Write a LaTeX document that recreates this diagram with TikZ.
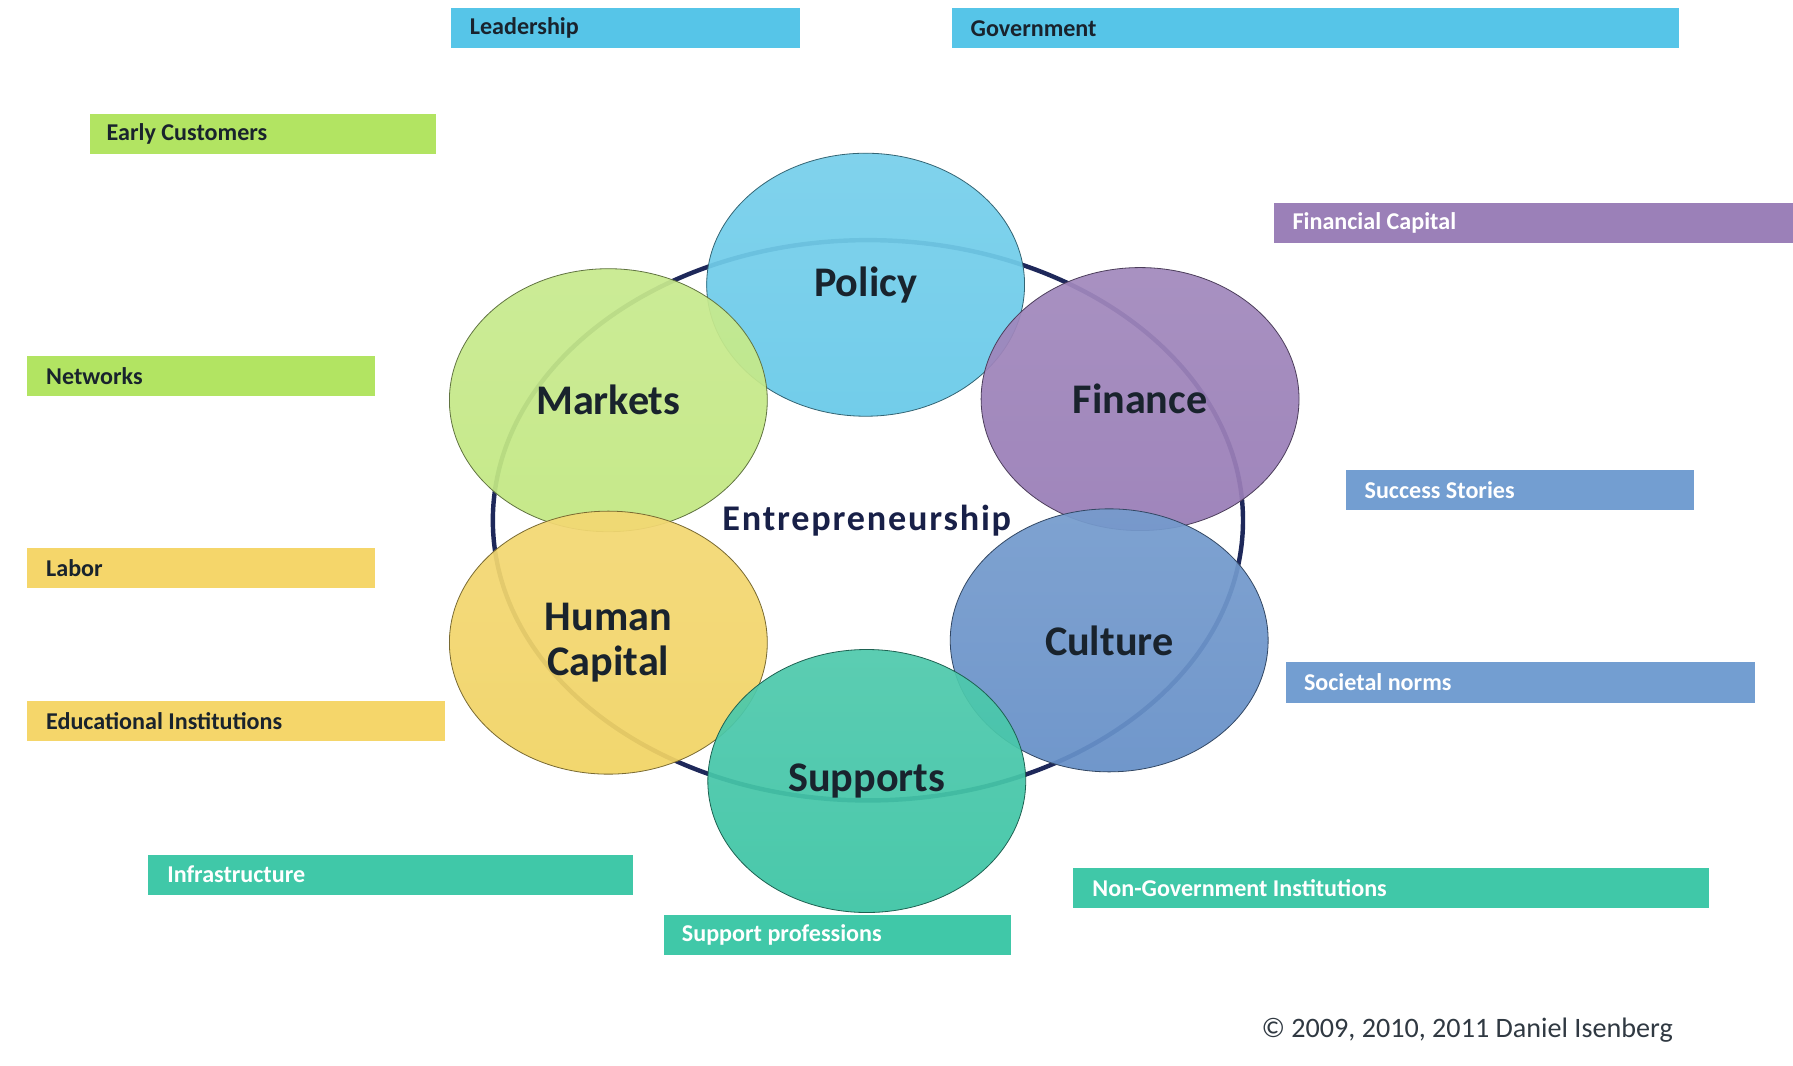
\documentclass[tikz,border=0pt]{standalone}
\usepackage{fontspec}
\setmainfont{Carlito}
\newfontfamily\spacedfont[LetterSpace=5]{Carlito}
\usepackage{tikz}
\usetikzlibrary{shapes.geometric, positioning, calc}
\definecolor{policycolor}{RGB}{104, 202, 233}
\definecolor{marketcolor}{RGB}{194, 232, 130}
\definecolor{financecolor}{RGB}{152, 124, 182}
\definecolor{culturecolor}{RGB}{102, 144, 200}
\definecolor{supportcolor}{RGB}{60, 196, 164}
\definecolor{humancolor}{RGB}{242, 212, 100}
\definecolor{bluebar}{RGB}{86, 197, 232}
\definecolor{greenbar}{RGB}{178, 228, 98}
\definecolor{yellowbar}{RGB}{245, 214, 106}
\definecolor{tealbar}{RGB}{64, 200, 168}
\definecolor{purplebar}{RGB}{155, 128, 184}
\definecolor{steelbar}{RGB}{115, 158, 209}
\definecolor{darktext}{RGB}{25, 35, 45}
\definecolor{ringcolor}{RGB}{30, 40, 90}

\begin{document}
\begin{tikzpicture}[
    circ/.style={ellipse, draw=#1!50!black, thin, top color=#1!90!white, bottom color=#1, fill opacity=0.93, text opacity=1, text=darktext, minimum width=5.56cm, minimum height=4.6cm, font=\fontsize{21}{24}\selectfont\bfseries, align=center},
    bar/.style={anchor=north west, minimum height=0.7cm, inner sep=0pt},
    barlabel/.style={anchor=west, inner sep=0pt, font=\fontsize{12}{14}\selectfont\bfseries},
]
    \fill[white] (0,0) rectangle (31.36,18.64);
    \useasboundingbox (0,0) rectangle (31.36,18.64);

    % Ring behind the domains
    \node[ellipse, draw=ringcolor, line width=2.2pt, minimum width=13.12cm, minimum height=9.8cm] (ring) at (15.18, 9.54) {};

    % Domains
    \node[circ=policycolor] (policy) at (15.14, 13.66) {Policy};
    \node[circ=marketcolor] (markets) at (10.64, 11.64) {Markets};
    \node[circ=financecolor] (finance) at (19.94, 11.66) {Finance};
    \node[circ=humancolor] (human) at (10.64, 7.4) {Human\\[-2pt]Capital};
    \node[circ=culturecolor] (culture) at (19.4, 7.44) {Culture};
    \node[circ=supportcolor] (supports) at (15.16, 4.98) {Supports};

    \node[font=\spacedfont\fontsize{18}{21}\selectfont\bfseries, text=ringcolor!80!black] (entre) at (15.16, 9.54) {Entrepreneurship};

    % Header bars, top
    \node[bar, fill=bluebar, minimum width=6.1cm] (lead) at (7.88, 18.5) {};
    \node[barlabel, text=darktext] at ([xshift=0.33cm]lead.west) {Leadership};

    \node[bar, fill=bluebar, minimum width=12.72cm] (gov) at (16.64, 18.5) {};
    \node[barlabel, text=darktext] at ([xshift=0.33cm]gov.west) {Government};

    % Header bars, left
    \node[bar, fill=greenbar, minimum width=6.06cm] (early) at (1.56, 16.66) {};
    \node[barlabel, text=darktext] at ([xshift=0.3cm]early.west) {Early Customers};

    \node[bar, fill=greenbar, minimum width=6.1cm] (networks) at (0.46, 12.42) {};
    \node[barlabel, text=darktext] at ([xshift=0.34cm]networks.west) {Networks};

    \node[bar, fill=yellowbar, minimum width=6.1cm] (labor) at (0.46, 9.06) {};
    \node[barlabel, text=darktext] at ([xshift=0.34cm]labor.west) {Labor};

    \node[bar, fill=yellowbar, minimum width=7.32cm] (edu) at (0.46, 6.38) {};
    \node[barlabel, text=darktext] at ([xshift=0.34cm]edu.west) {Educational Institutions};

    % Header bars, bottom
    \node[bar, fill=tealbar, minimum width=8.48cm] (infra) at (2.58, 3.7) {};
    \node[barlabel, text=white] at ([xshift=0.34cm]infra.west) {Infrastructure};

    \node[bar, fill=tealbar, minimum width=6.08cm] (prof) at (11.6, 2.64) {};
    \node[barlabel, text=white] at ([xshift=0.32cm]prof.west) {Support professions};

    \node[bar, fill=tealbar, minimum width=11.12cm] (nongov) at (18.76, 3.46) {};
    \node[barlabel, text=white] at ([xshift=0.34cm]nongov.west) {Non-Government Institutions};

    % Header bars, right
    \node[bar, fill=purplebar, minimum width=9.08cm] (fincap) at (22.28, 15.1) {};
    \node[barlabel, text=white] at ([xshift=0.32cm]fincap.west) {Financial Capital};

    \node[bar, fill=steelbar, minimum width=6.08cm] (success) at (23.54, 10.42) {};
    \node[barlabel, text=white] at ([xshift=0.32cm]success.west) {Success Stories};

    \node[bar, fill=steelbar, minimum width=8.2cm] (norms) at (22.48, 7.06) {};
    \node[barlabel, text=white] at ([xshift=0.32cm]norms.west) {Societal norms};

    % Credit
    \node[font=\fontsize{14}{16}\selectfont, text=darktext!90] (credit) at (25.66, 0.62) {\textcopyright{} 2009, 2010, 2011 Daniel Isenberg};
\end{tikzpicture}
\end{document}
